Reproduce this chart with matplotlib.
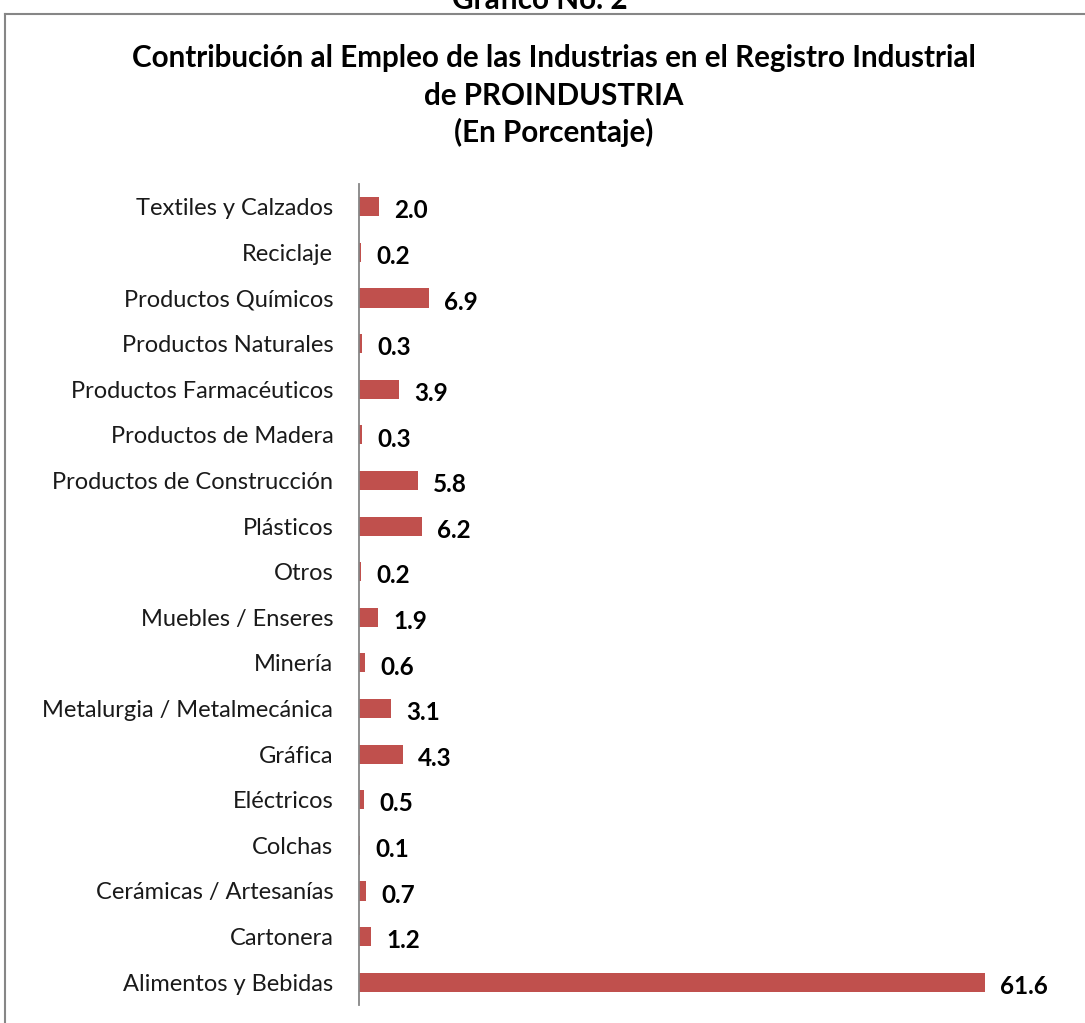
import matplotlib
matplotlib.use("Agg")
import matplotlib.pyplot as plt
from matplotlib.lines import Line2D

categories = ["Textiles y Calzados", "Reciclaje", "Productos Químicos", "Productos Naturales",
              "Productos Farmacéuticos", "Productos de Madera", "Productos de Construcción",
              "Plásticos", "Otros", "Muebles / Enseres", "Minería", "Metalurgia / Metalmecánica",
              "Gráfica", "Eléctricos", "Colchas", "Cerámicas / Artesanías", "Cartonera",
              "Alimentos y Bebidas"]
values = [2.0, 0.2, 6.9, 0.3, 3.9, 0.3, 5.8, 6.2, 0.2, 1.9, 0.6, 3.1, 4.3, 0.5, 0.1, 0.7, 1.2, 61.6]

W, H = 1085, 1023
fig = plt.figure(figsize=(W/100, H/100), dpi=100)
plt.rcParams['font.family'] = ['Lato', 'DejaVu Sans']

# axes in pixel coordinates
ax_left, ax_right, ax_top, ax_bottom = 359, 1065, 184, 1005
ax = fig.add_axes([ax_left/W, 1-ax_bottom/H, (ax_right-ax_left)/W, (ax_bottom-ax_top)/H])

n = len(categories)
ypos = list(range(n))[::-1]
ax.barh(ypos, values, height=0.42, color="#C0504D")
ax.set_ylim(-0.5, n-0.5)
xmax = (ax_right-ax_left)/((985-359)/61.6)
ax.set_xlim(0, xmax)
ax.set_yticks(ypos)
ax.set_yticklabels(categories, fontsize=17, color="#1a1a1a")
ax.tick_params(axis='y', length=0, pad=18.5)
ax.set_xticks([])
for s in ["top", "right", "bottom"]:
    ax.spines[s].set_visible(False)
ax.spines["left"].set_color("#868686")
ax.spines["left"].set_linewidth(1.3)

for y, v in zip(ypos, values):
    ax.annotate(f"{v:.1f}", xy=(v, y), xytext=(11, -3), textcoords="offset points",
                ha="left", va="center", fontsize=17.5, fontweight="bold", color="black")

fig.text(554/W, 1-58/H, "Contribución al Empleo de las Industrias en el Registro Industrial",
         ha="center", va="center", fontsize=21.3, fontweight="bold")
fig.text(554/W, 1-96/H, "de PROINDUSTRIA", ha="center", va="center", fontsize=21.3, fontweight="bold")
fig.text(554/W, 1-132/H, "(En Porcentaje)", ha="center", va="center", fontsize=21.3, fontweight="bold")
fig.text(540/W, 1-0/H, "Gráfico No. 2", ha="center", va="center", fontsize=21.3, fontweight="bold")

# outer frame
fig.add_artist(Line2D([5/W, 1.0], [1-14/H, 1-14/H], color="#868686", linewidth=1.5))
fig.add_artist(Line2D([5/W, 5/W], [0, 1-14/H], color="#868686", linewidth=1.5))

fig.savefig("out.png", dpi=100)
